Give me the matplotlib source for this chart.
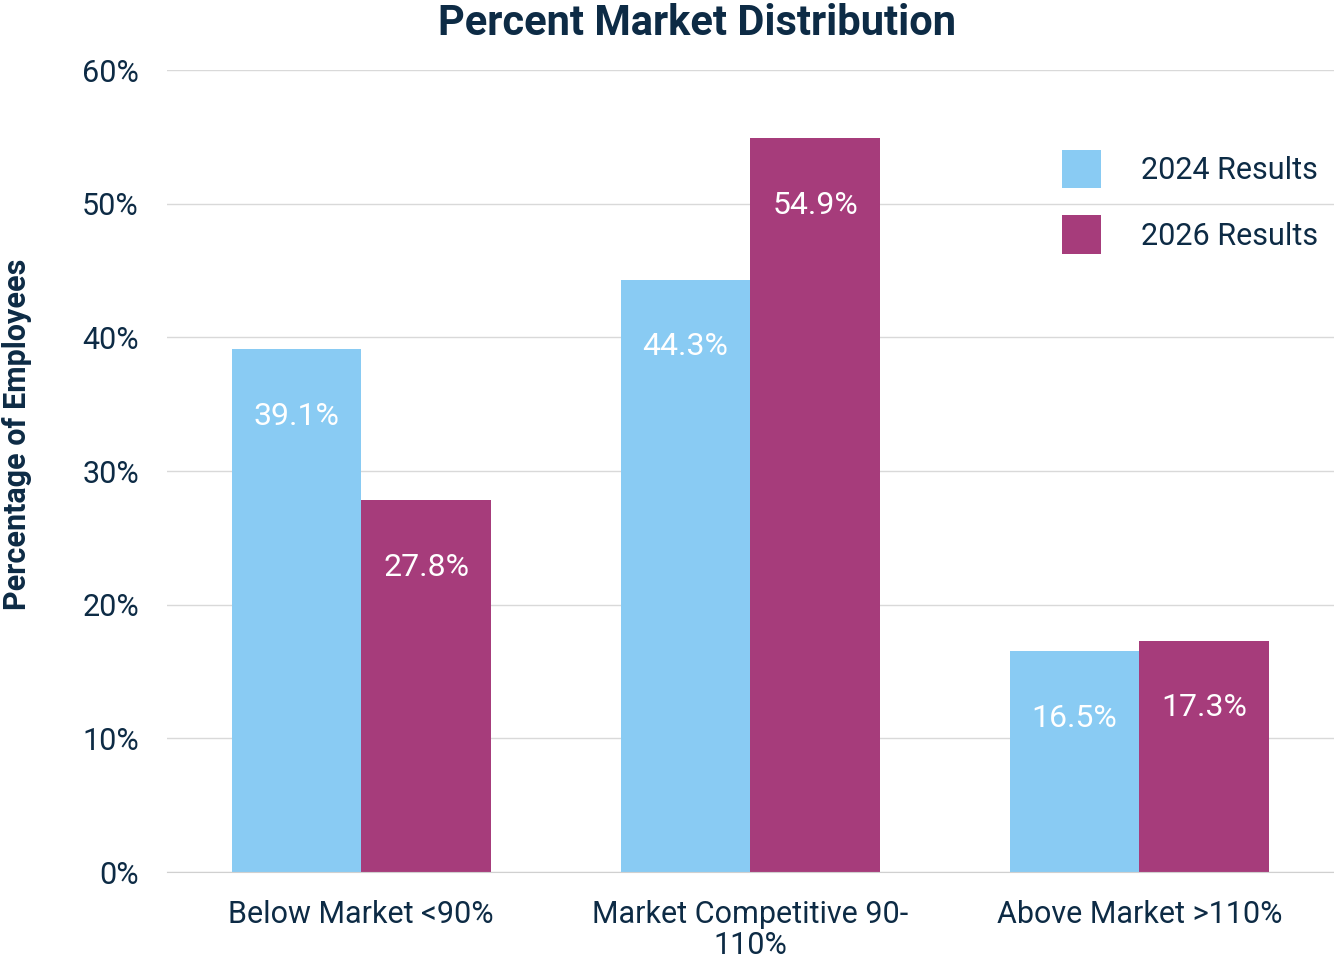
import matplotlib
matplotlib.use("Agg")
import matplotlib.pyplot as plt
from matplotlib.ticker import FuncFormatter
import numpy as np

plt.rcParams["font.family"] = ["Roboto", "DejaVu Sans"]

categories = ["Below Market <90%", "Market Competitive 90-\n110%", "Above Market >110%"]
series_names = ["2024 Results", "2026 Results"]
results_2024 = [39.1, 44.3, 16.5]
results_2026 = [27.8, 54.9, 17.3]

TEXT = "#0d2b45"
BLUE = "#89cbf3"
MAGENTA = "#a63c7b"

fig = plt.figure(figsize=(13.34, 9.59), dpi=100)
ax = fig.add_axes([0.125, 0.0907, 0.875, 0.8363])

x = np.arange(len(categories))
w = 1 / 3
bars_a = ax.bar(x - w / 2, results_2024, w, color=BLUE, label=series_names[0], zorder=2)
bars_b = ax.bar(x + w / 2, results_2026, w, color=MAGENTA, label=series_names[1], zorder=2)

for bars in (bars_a, bars_b):
    for b in bars:
        v = b.get_height()
        ax.text(b.get_x() + b.get_width() / 2, v - 5, f"{v:.1f}%", ha="center", va="center",
                color="white", fontsize=23, zorder=3)

ax.set_xlim(-0.5, 2.5)
ax.set_ylim(0, 60)
ax.set_yticks(range(0, 61, 10))
ax.yaxis.set_major_formatter(FuncFormatter(lambda v, _: f"{v:.0f}%"))
ax.set_xticks(x)
ax.set_xticklabels(categories, linespacing=1.1)
ax.tick_params(axis="both", length=0, labelsize=22, labelcolor=TEXT)
ax.tick_params(axis="y", pad=20)
ax.tick_params(axis="x", pad=20)
ax.grid(axis="y", color="#d9d9d9", linewidth=1, zorder=0)
for s in ("top", "right", "left"):
    ax.spines[s].set_visible(False)
ax.spines["bottom"].set_color("#d0d0d0")

fig.text(17 / 1334, 1 - 434 / 959, "Percentage of Employees", rotation=90, ha="center", va="center",
         fontsize=22, fontweight="bold", color=TEXT)
fig.text(0.5225, 0.976, "Percent Market Distribution", ha="center", va="center",
         fontsize=30, fontweight="bold", color=TEXT)

leg = ax.legend(loc="upper right", bbox_to_anchor=(1.01, 0.935), frameon=False, fontsize=22,
                handlelength=1.28, handleheight=1.55, handletextpad=1.3, labelspacing=0.9,
                labelcolor=TEXT)

fig.savefig("out.png", dpi=100, facecolor="white")
